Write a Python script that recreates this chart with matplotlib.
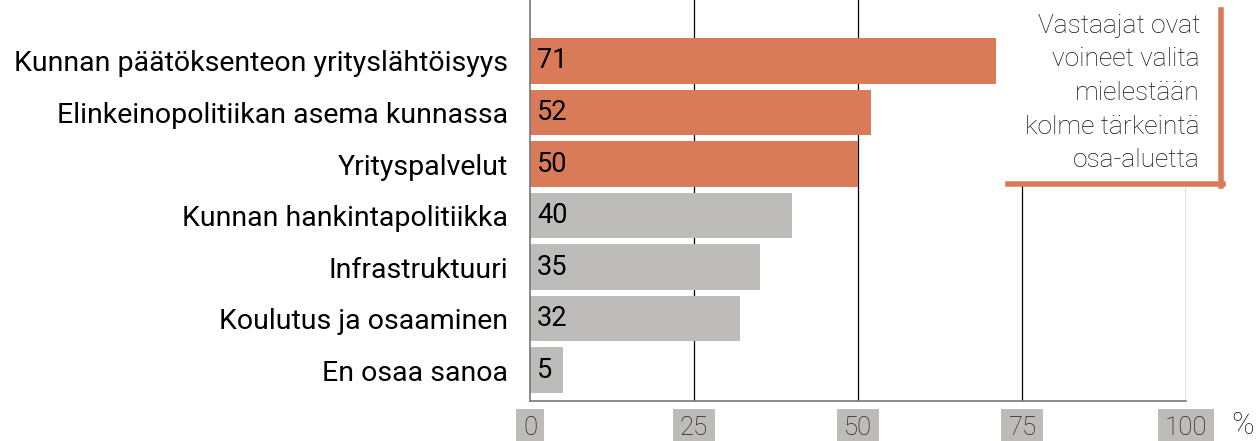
import matplotlib.pyplot as plt

categories = ["Kunnan päätöksenteon yrityslähtöisyys",
              "Elinkeinopolitiikan asema kunnassa",
              "Yrityspalvelut",
              "Kunnan hankintapolitiikka",
              "Infrastruktuuri",
              "Koulutus ja osaaminen",
              "En osaa sanoa"]
values = [71, 52, 50, 40, 35, 32, 5]
highlight = [True, True, True, False, False, False, False]
xticks = [0, 25, 50, 75, 100]
note = "Vastaajat ovat\nvoineet valita\nmielestään\nkolme tärkeintä\nosa-aluetta"

orange = "#d97b58"
grey = "#bdbcba"

plt.rcParams['font.family'] = ['Roboto', 'DejaVu Sans']

fig = plt.figure(figsize=(12.56, 4.41), dpi=100)
ax = fig.add_axes([530 / 1256, 1 - 401 / 441, 656 / 1256, 401 / 441])

ypos = list(range(len(categories)))
colors = [orange if h else grey for h in highlight]
ax.barh(ypos, values, height=0.89, color=colors, zorder=2)

for y, v in zip(ypos, values):
    ax.annotate(str(v), (0, y), xytext=(5, 0), textcoords="offset points",
                ha="left", va="center", fontsize=19.5, fontweight="normal",
                color="black", zorder=3)

ax.set_xlim(0, 100)
ax.set_ylim(6.60, -1.184)

ax.set_yticks(ypos)
ax.set_yticklabels(categories, fontsize=20.5)
ax.tick_params(axis="y", length=0, pad=16)

ax.set_xticks(xticks)
ax.set_xticklabels([str(t) for t in xticks], fontsize=18.5, fontweight="light", color="#222222")
ax.tick_params(axis="x", length=0, pad=10.5)
for lab in ax.get_xticklabels():
    lab.set_bbox(dict(facecolor=grey, edgecolor="none", pad=5))

for t in xticks[1:]:
    ax.axvline(t, color="black", lw=0.9, zorder=1)

for s in ["top", "right"]:
    ax.spines[s].set_visible(False)
for s in ["left", "bottom"]:
    ax.spines[s].set_color("#777777")
    ax.spines[s].set_linewidth(1.2)

fig.text(1243 / 1256, 1 - 426 / 441, "%", fontsize=22, fontweight="light",
         ha="center", va="center", color="#222222")

# note box with orange right/bottom border
px = lambda x, y: (x / 1256, 1 - y / 441)
box = plt.Rectangle(px(1008, 184), 214 / 1256, 184 / 441, transform=fig.transFigure,
                    facecolor="white", edgecolor="none", zorder=5)
fig.patches.append(box)
fig.lines.append(plt.Line2D([1221 / 1256, 1221 / 1256], [1 - 10 / 441, 1 - 186 / 441],
                            transform=fig.transFigure, color=orange, lw=4, zorder=6))
fig.lines.append(plt.Line2D([1008 / 1256, 1223 / 1256], [1 - 184 / 441, 1 - 184 / 441],
                            transform=fig.transFigure, color=orange, lw=4, zorder=6))
fig.text(1200 / 1256, 1 - 93 / 441, note, fontsize=19, fontweight="light",
         ha="right", va="center", linespacing=1.5, color="#111111", zorder=7)

fig.savefig("out.png", dpi=100)
